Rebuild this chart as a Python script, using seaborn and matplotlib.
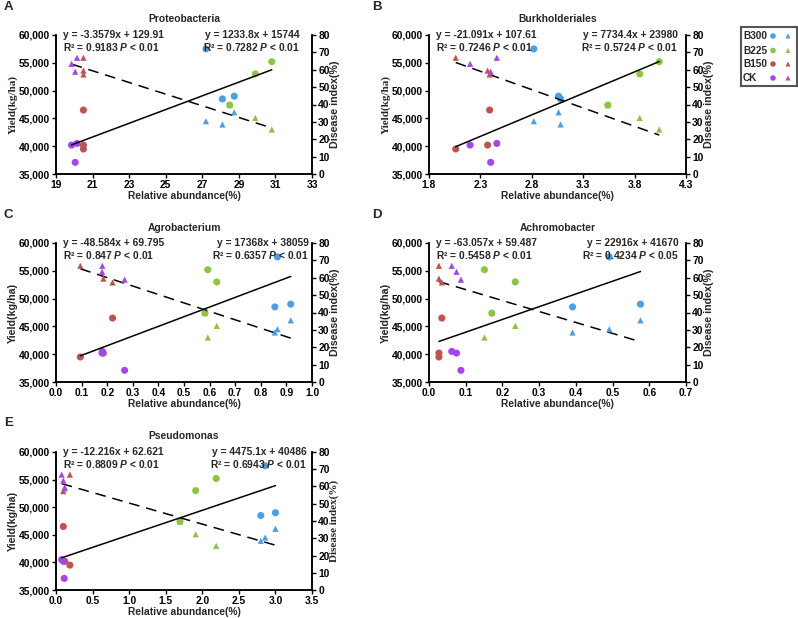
import numpy as np
import pandas as pd
import matplotlib
matplotlib.use("Agg")
import matplotlib.pyplot as plt
import seaborn as sns

# ---------------- data ----------------
groups = ["B300"] * 3 + ["B225"] * 3 + ["B150"] * 3 + ["CK"] * 3
yield_vals = [57500, 48500, 49000, 55200, 53000, 47400, 39500, 40200, 46500, 40200, 40500, 37100]
di_vals = [30.4, 28.5, 35.5, 25.6, 32.3, 39.7, 66.9, 59.5, 57.3, 63.4, 66.9, 58.9]

taxa = ["Proteobacteria", "Burkholderiales", "Agrobacterium", "Achromobacter", "Pseudomonas"]
panel_letters = ["A", "B", "C", "D", "E"]

abund_proteobacteria = [27.2, 28.1, 28.75, 30.8, 29.9, 28.5, 20.5, 20.5, 20.5, 19.85, 20.15, 20.05]
abund_burkholderiales = [2.82, 3.08, 3.06, 4.04, 3.85, 3.54, 2.06, 2.37, 2.39, 2.20, 2.46, 2.40]
abund_agrobacterium = [0.865, 0.855, 0.917, 0.593, 0.628, 0.582, 0.095, 0.185, 0.221, 0.180, 0.181, 0.268]
abund_achromobacter = [0.491, 0.391, 0.576, 0.151, 0.235, 0.171, 0.027, 0.027, 0.035, 0.075, 0.062, 0.087]
abund_pseudomonas = [2.86, 2.80, 3.00, 2.19, 1.91, 1.695, 0.19, 0.12, 0.10, 0.10, 0.077, 0.113]
abundances = [abund_proteobacteria, abund_burkholderiales, abund_agrobacterium,
              abund_achromobacter, abund_pseudomonas]

# fitted equations printed on the chart: (slope, intercept)
di_fit = [(-3.3579, 129.91), (-21.091, 107.61), (-48.584, 69.795), (-63.057, 59.487), (-12.216, 62.621)]
yield_fit = [(1233.8, 15744), (7734.4, 23980), (17368, 38059), (22916, 41670), (4475.1, 40486)]
di_text = [("y = -3.3579x + 129.91", "0.9183", "< 0.01"),
           ("y = -21.091x + 107.61", "0.7246", "< 0.01"),
           ("y = -48.584x + 69.795", "0.847", "< 0.01"),
           ("y = -63.057x + 59.487", "0.5458", "< 0.01"),
           ("y = -12.216x + 62.621", "0.8809", "< 0.01")]
yield_text = [("y = 1233.8x + 15744", "0.7282", "< 0.01"),
              ("y = 7734.4x + 23980", "0.5724", "< 0.01"),
              ("y = 17368x + 38059", "0.6357", "< 0.01"),
              ("y = 22916x + 41670", "0.4234", "< 0.05"),
              ("y = 4475.1x + 40486", "0.6943", "< 0.01")]

xticks_list = [
    [19, 21, 23, 25, 27, 29, 31, 33],
    [1.8, 2.3, 2.8, 3.3, 3.8, 4.3],
    [0.0, 0.1, 0.2, 0.3, 0.4, 0.5, 0.6, 0.7, 0.8, 0.9, 1.0],
    [0.0, 0.1, 0.2, 0.3, 0.4, 0.5, 0.6, 0.7],
    [0.0, 0.5, 1.0, 1.5, 2.0, 2.5, 3.0, 3.5],
]
xfmt = ["{:.0f}", "{:.1f}", "{:.1f}", "{:.1f}", "{:.1f}"]
yield_ticks = [35000, 40000, 45000, 50000, 55000, 60000]
di_ticks = [0, 10, 20, 30, 40, 50, 60, 70, 80]

group_order = ["B300", "B225", "B150", "CK"]
palette = {"B300": "#4a9fea", "B225": "#8cc63e", "B150": "#c2534c", "CK": "#a545f2"}

# ---------------- style ----------------
sns.set_style("ticks")
plt.rcParams["font.family"] = ["Liberation Sans", "DejaVu Sans"]
plt.rcParams["font.weight"] = "bold"
plt.rcParams["axes.linewidth"] = 1.0
plt.rcParams["mathtext.fontset"] = "custom"
plt.rcParams["mathtext.rm"] = "Liberation Sans:bold"
plt.rcParams["mathtext.it"] = "Liberation Sans:italic:bold"
plt.rcParams["mathtext.bf"] = "Liberation Sans:bold"
plt.rcParams["mathtext.bfit"] = "Liberation Sans:italic:bold"

W, H = 798, 618
fig = plt.figure(figsize=(W / 100, H / 100), dpi=100)


def rect(l, t, r, b):
    return [l / W, 1 - b / H, (r - l) / W, (b - t) / H]


boxes = [(56, 35, 312, 174), (429, 35, 686, 174), (56, 243, 312, 382),
         (429, 243, 686, 382), (56, 452, 312, 590)]
letter_pos = [(4, 7), (372, 7), (4, 215), (372, 215), (4, 423)]
right_pad = [12, 8, 3, 7, 5]
left_serif = [True, True, False, False, False]
right_serif = [False, False, False, False, True]

FS = 7.4
serif = ["Liberation Serif", "DejaVu Serif"]

for i in range(5):
    l, t, r, b = boxes[i]
    df = pd.DataFrame({"group": groups, "abund": abundances[i],
                       "yield": yield_vals, "di": di_vals})
    ax = fig.add_axes(rect(l, t, r, b))
    ax2 = ax.twinx()

    xt = xticks_list[i]
    xmin, xmax = min(abundances[i]), max(abundances[i])
    xs = np.array([xmin, xmax])

    sns.scatterplot(data=df, x="abund", y="yield", hue="group", hue_order=group_order,
                    palette=palette, marker="o", s=26, linewidth=0, legend=False, ax=ax, zorder=3)
    sns.scatterplot(data=df, x="abund", y="di", hue="group", hue_order=group_order,
                    palette=palette, marker="^", s=20, linewidth=0, legend=False, ax=ax2, zorder=3)

    ys = yield_fit[i][0] * xs + yield_fit[i][1]
    ax2.plot(xs, (ys - 35000) / 25000 * 80, color="black", lw=1.1, zorder=2)
    ds = di_fit[i][0] * xs + di_fit[i][1]
    ax2.plot(xs, ds, color="black", lw=1.1, ls=(0, (7, 4.5)), zorder=2)

    ax.set_xlim(xt[0], xt[-1])
    ax.set_ylim(35000, 60000)
    ax2.set_ylim(0, 80)
    ax.set_xticks(xt)
    ax.set_xticklabels([xfmt[i].format(v) for v in xt], fontsize=FS, fontweight="bold")
    ax.set_yticks(yield_ticks)
    ax.set_yticklabels([f"{v:,}" for v in yield_ticks], fontsize=FS, fontweight="bold")
    ax2.set_yticks(di_ticks)
    ax2.set_yticklabels([str(v) for v in di_ticks], fontsize=FS, fontweight="bold")
    for a in (ax, ax2):
        a.tick_params(length=3, width=1.0, pad=1.5, colors="black")
        a.spines["top"].set_visible(False)
        for s in ("left", "right", "bottom"):
            a.spines[s].set_visible(True)
            a.spines[s].set_color("black")
            a.spines[s].set_linewidth(1.1)

    ax.set_xlabel("Relative abundance(%)", fontsize=FS, fontweight="bold", labelpad=0.5)
    if left_serif[i]:
        ax.set_ylabel("Yield(kg/ha)", fontsize=FS + 0.6, fontweight="bold", family=serif, labelpad=0.5)
    else:
        ax.set_ylabel("Yield(kg/ha)", fontsize=FS + 0.3, fontweight="bold", labelpad=0.5)
    if right_serif[i]:
        ax2.set_ylabel("Disease index(%)", fontsize=FS + 0.6, fontweight="bold", family=serif, labelpad=0)
    else:
        ax2.set_ylabel("Disease index(%)", fontsize=FS + 0.3, fontweight="bold", labelpad=0)
    ax.set_title(taxa[i], fontsize=FS, fontweight="bold", pad=9)

    # equations
    ax.text(7 / (r - l), 1.0, di_text[i][0], transform=ax.transAxes, fontsize=FS,
            fontweight="bold", ha="left", va="center")
    ax.text(7 / (r - l), 1.0 - 12 / (b - t),
            "R² = " + di_text[i][1] + " $\\mathit{P}$ " + di_text[i][2],
            transform=ax.transAxes, fontsize=FS, fontweight="bold", ha="left", va="center")
    xr = 1 - right_pad[i] / (r - l)
    ax.text(xr, 1.0, yield_text[i][0], transform=ax.transAxes, fontsize=FS,
            fontweight="bold", ha="right", va="center")
    ax.text(xr, 1.0 - 12 / (b - t),
            "R² = " + yield_text[i][1] + " $\\mathit{P}$ " + yield_text[i][2],
            transform=ax.transAxes, fontsize=FS, fontweight="bold", ha="right", va="center")

    lx, ly = letter_pos[i]
    fig.text(lx / W, 1 - ly / H, panel_letters[i], fontsize=9.5, fontweight="bold",
             ha="left", va="center")

# legend box (labels left-aligned, circle and triangle markers to the right)
lg_l, lg_t, lg_r, lg_b = 741, 27, 797, 86
lax = fig.add_axes(rect(lg_l, lg_t, lg_r, lg_b))
lax.set_xlim(lg_l, lg_r)
lax.set_ylim(lg_b, lg_t)
lax.set_xticks([])
lax.set_yticks([])
for s in lax.spines.values():
    s.set_visible(True)
    s.set_color("#555555")
    s.set_linewidth(1.5)
row_y = [36, 50.5, 64, 78]
leg_df = pd.DataFrame({"group": group_order, "row": row_y,
                       "cx": [773] * 4, "tx": [788] * 4})
for g, yy in zip(group_order, row_y):
    lax.text(743, yy, g, fontsize=7.2, fontweight="bold", ha="left", va="center")
sns.scatterplot(data=leg_df, x="cx", y="row", hue="group", hue_order=group_order, palette=palette,
                marker="o", s=16, linewidth=0, legend=False, ax=lax)
sns.scatterplot(data=leg_df, x="tx", y="row", hue="group", hue_order=group_order, palette=palette,
                marker="^", s=13, linewidth=0, legend=False, ax=lax)
lax.set_xlabel("")
lax.set_ylabel("")

fig.savefig("out.png", dpi=100)
